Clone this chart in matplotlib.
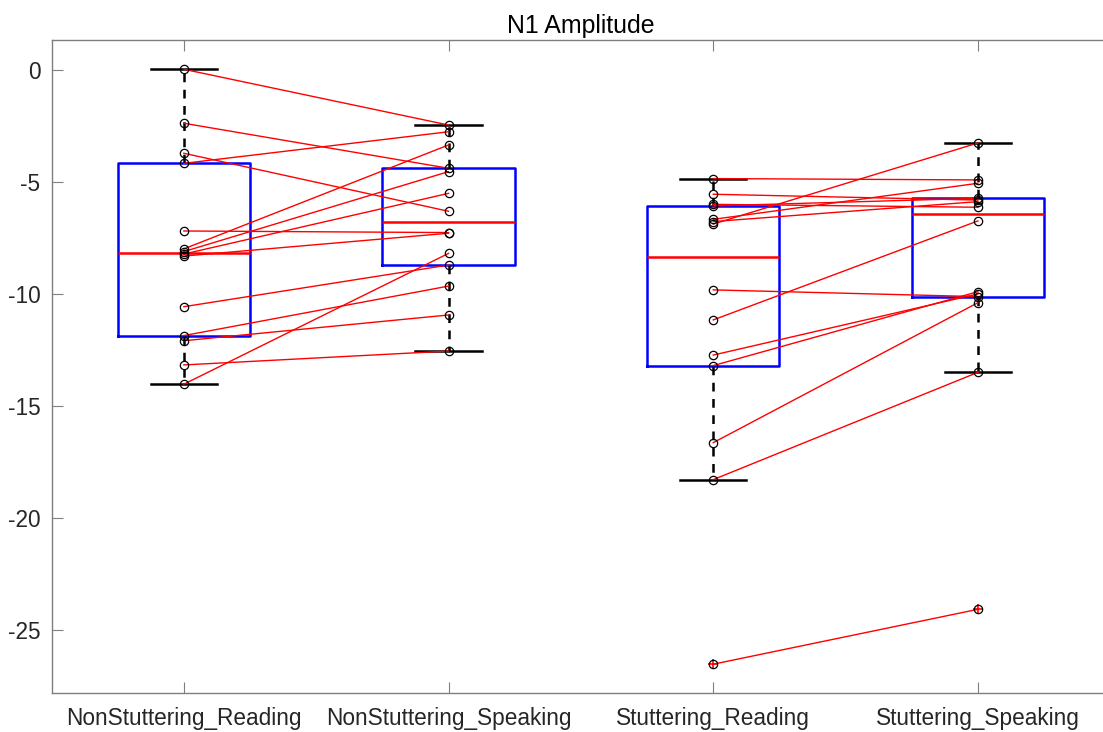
import numpy as np
import matplotlib
matplotlib.use('Agg')
import matplotlib.pyplot as plt

plt.rcParams['font.family'] = ['Liberation Sans', 'DejaVu Sans']

CONDITIONS = ['NonStuttering_Reading', 'NonStuttering_Speaking',
              'Stuttering_Reading', 'Stuttering_Speaking']

# N1 amplitude per subject, same subject order in both conditions of a group
NS_READING = [0.05, -2.36, -3.70, -4.15, -7.17, -7.97, -8.09, -8.20, -8.29,
              -10.55, -11.84, -12.07, -13.15, -14.01]
NS_SPEAKING = [-2.44, -4.37, -6.29, -2.74, -7.24, -3.33, -4.52, -5.49, -7.27,
               -8.69, -9.63, -10.92, -12.53, -8.17]

S_READING = [-4.83, -5.53, -5.98, -6.05, -6.65, -6.75, -6.86, -9.80, -11.14,
             -12.71, -13.18, -16.62, -18.27, -26.51]
S_SPEAKING = [-4.89, -5.79, -6.11, -5.71, -5.04, -5.86, -3.24, -10.10, -6.72,
              -9.98, -9.88, -10.37, -13.48, -24.06]

TITLE = 'N1 Amplitude'


def matlab_prctile(x, p):
    # midpoint rule used by MATLAB's prctile
    x = np.sort(np.asarray(x, dtype=float))
    n = len(x)
    pos = p / 100.0 * n + 0.5
    if pos <= 1:
        return x[0]
    if pos >= n:
        return x[-1]
    lo = int(np.floor(pos))
    frac = pos - lo
    return x[lo - 1] + frac * (x[lo] - x[lo - 1])


def box_stats(x, label):
    x = np.asarray(x, dtype=float)
    q1 = matlab_prctile(x, 25)
    q3 = matlab_prctile(x, 75)
    med = np.median(x)
    iqr = q3 - q1
    lo_lim = q1 - 1.5 * iqr
    hi_lim = q3 + 1.5 * iqr
    inside = x[(x >= lo_lim) & (x <= hi_lim)]
    return dict(label=label, med=med, q1=q1, q3=q3,
                whislo=inside.min(), whishi=inside.max(),
                fliers=x[(x < lo_lim) | (x > hi_lim)])


groups = [NS_READING, NS_SPEAKING, S_READING, S_SPEAKING]
stats = [box_stats(g, c) for g, c in zip(groups, CONDITIONS)]

fig = plt.figure(figsize=(11.03, 7.32), dpi=100)
# the plot box runs a little past the right edge of the figure
ax = fig.add_axes([51.5 / 1103, 1 - 693.3 / 732, (1110.3 - 51.5) / 1103,
                   (693.3 - 39.7) / 732])

ax.bxp(stats, positions=[1, 2, 3, 4], widths=0.5, showfliers=True,
       boxprops=dict(color='blue', linewidth=1.8),
       medianprops=dict(color='red', linewidth=1.8),
       whiskerprops=dict(color='black', linewidth=1.8, linestyle=(0, (3.5, 3))),
       capprops=dict(color='black', linewidth=1.8),
       capwidths=0.25,
       flierprops=dict(marker='+', markeredgecolor='red', markersize=7,
                       markeredgewidth=1.2, linestyle='none'),
       zorder=2)

# paired subject lines
for left, right, x0 in [(NS_READING, NS_SPEAKING, 1), (S_READING, S_SPEAKING, 3)]:
    for a, b in zip(left, right):
        ax.plot([x0, x0 + 1], [a, b], color='red', linewidth=1.0, zorder=3)
        ax.plot([x0, x0 + 1], [a, b], linestyle='none', marker='o',
                markersize=6, markerfacecolor='none', markeredgecolor='black',
                markeredgewidth=0.9, zorder=4)

ax.set_xlim(0.5, 4.5)
ax.set_ylim(-27.81, 1.37)
ax.set_xticks([1, 2, 3, 4])
ax.set_xticklabels(CONDITIONS)
ax.set_yticks([0, -5, -10, -15, -20, -25])
ax.set_yticklabels(['0', '-5', '-10', '-15', '-20', '-25'])

for s in ax.spines.values():
    s.set_color('#7f7f7f')
    s.set_linewidth(1.0)
ax.spines['right'].set_visible(False)
ax.tick_params(direction='in', length=8, width=0.8, color='#7f7f7f',
               labelcolor='#262626', labelsize=16.3, top=True, right=False)
ax.tick_params(axis='x', pad=10)
ax.tick_params(axis='y', pad=8)

ax.set_title(TITLE, fontsize=17.9, color='black', pad=5)

fig.savefig('out.png', dpi=100)
